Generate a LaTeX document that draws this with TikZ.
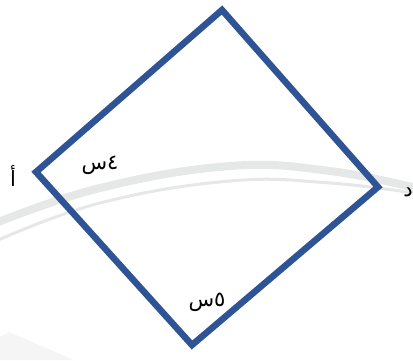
\documentclass[tikz,border=0pt]{standalone}
\usepackage{fontspec}
\usepackage{tikz}
\usetikzlibrary{calc,positioning}
\newfontfamily\arabicfont[Script=Arabic]{DejaVu Sans}
\TeXXeTstate=1
\definecolor{sqblue}{HTML}{2F5496}
\definecolor{swgray}{HTML}{E6E7E7}
\definecolor{swlight}{HTML}{F5F5F5}
\tikzstyle{side}  =[draw=sqblue, line width=6.5pt, line join=miter]
\tikzstyle{swoosh}=[draw=swgray, line cap=round]
\tikzstyle{lbl}   =[inner sep=0pt, font=\arabicfont\fontsize{21}{24}\selectfont]

\begin{document}
\begin{tikzpicture}[x=1pt, y=-1pt]
    \useasboundingbox (0,0) rectangle (413,360);
    % background swoosh
    \fill[swlight] (0,337) -- (9,332) -- (74,360) -- (0,360) -- cycle;
    \draw[swoosh, line width=8pt] plot[smooth, tension=0.7] coordinates
        {(-4,223) (100,188) (230,166) (330,171) (420,189)};
    \draw[swoosh, line width=3pt] plot[smooth, tension=0.7] coordinates
        {(-4,241) (100,203) (230,181) (330,183) (420,194)};
    % corners
    \coordinate (t) at (222,10);
    \coordinate (d) at (378,187);
    \coordinate (b) at (192,345);
    \coordinate (a) at (36,172);
    \draw[side] (a) -- (t) -- (d) -- (b) -- cycle;
    % labels
    \node[lbl] (la) at (13,176) {\beginR أ\endR};
    \node[lbl] (ld) at (408,192) {\beginR د\endR};
    \node[lbl] (s4) at (100,165) {\beginR ٤س\endR};
    \node[lbl] (s5) at (207,302) {\beginR ٥س\endR};
\end{tikzpicture}
\end{document}
